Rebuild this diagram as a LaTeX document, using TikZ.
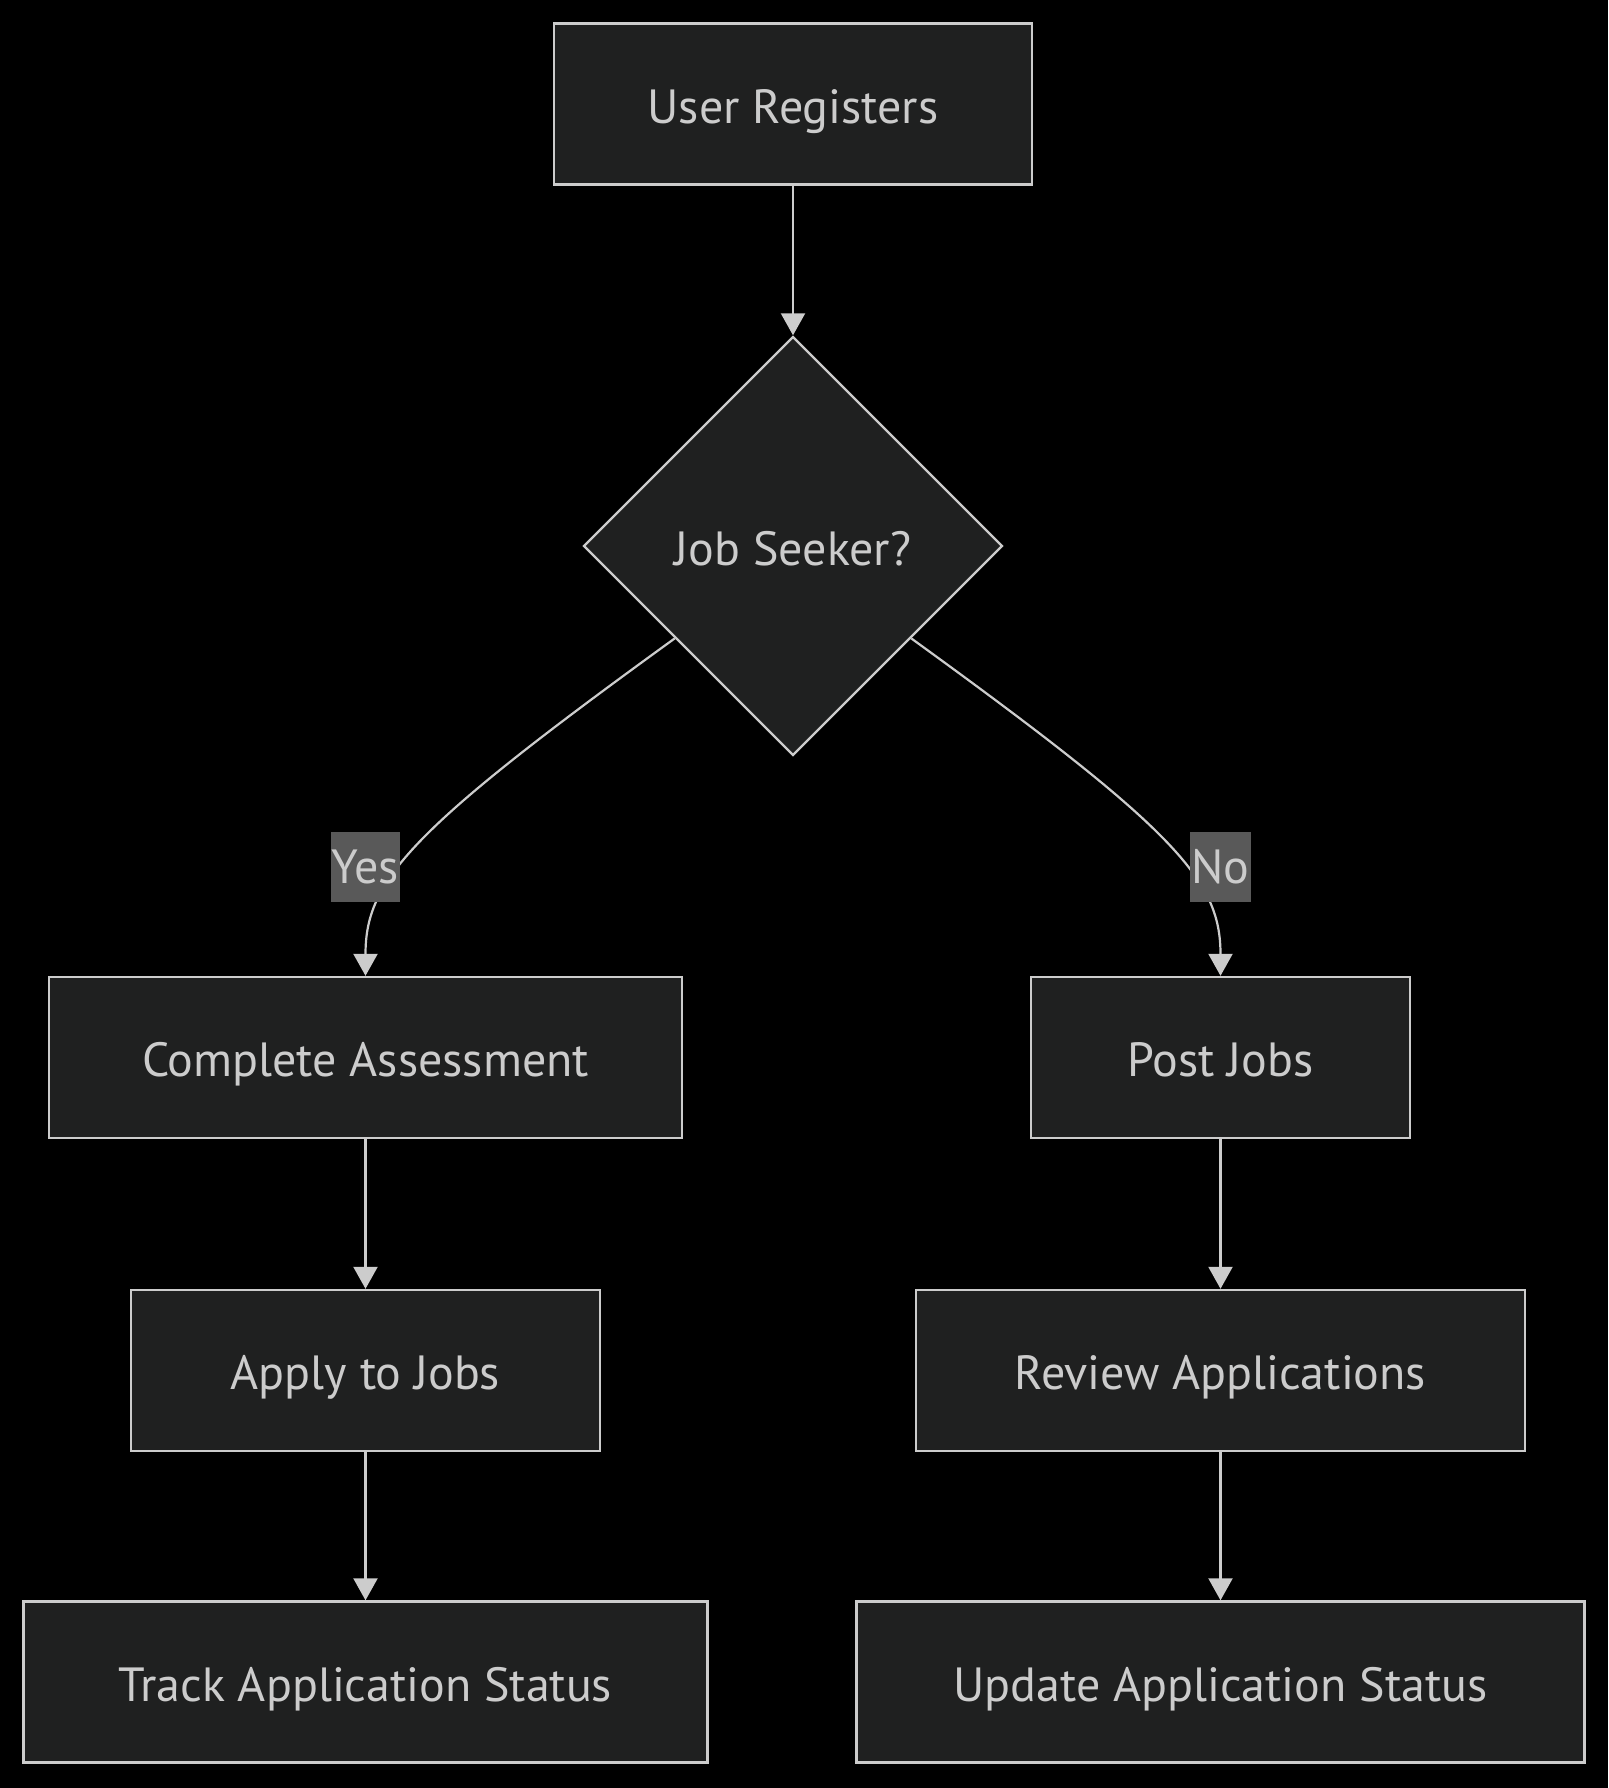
\documentclass[tikz,border=0pt]{standalone}
\usepackage{fontspec}
\setmainfont{PT Sans}
\usetikzlibrary{shapes.geometric, arrows.meta}
\definecolor{nodefill}{HTML}{1F2020}
\definecolor{nodeline}{HTML}{CCCCCC}
\definecolor{labelfill}{HTML}{595959}

\begin{document}
\begin{tikzpicture}[x=0.5pt, y=-0.5pt,
    stepbox/.style={draw=nodeline, fill=nodefill, line width=1.2pt, text=nodeline,
        minimum height=80.5pt, inner sep=0pt, text height=19pt, text depth=0pt,
        font=\fontsize{24}{28}\selectfont},
    choice/.style={draw=nodeline, fill=nodefill, line width=1.2pt, text=nodeline,
        diamond, aspect=1, minimum size=209.5pt, inner sep=0pt, text height=19pt,
        text depth=0pt, font=\fontsize{24}{28}\selectfont},
    edgelbl/.style={fill=labelfill, text=nodeline, inner xsep=0.5pt, inner ysep=0pt,
        minimum height=35pt, font=\fontsize{24}{28}\selectfont},
    flow/.style={draw=nodeline, line width=1.1pt, -{Triangle[length=11pt, width=12pt]}}]
    \fill[black] (0, 0) rectangle (1608, 1788);

    \node[stepbox, minimum width=239pt] at (793, 104) (UR) {User Registers};
    \node[choice] at (793, 546) (JS) {Job Seeker?};
    \node[stepbox, minimum width=316.5pt] at (365.5, 1057.5) (CA) {Complete Assessment};
    \node[stepbox, minimum width=189.5pt] at (1220.5, 1057.5) (PJ) {Post Jobs};
    \node[stepbox, minimum width=234.5pt] at (365.5, 1370.5) (AJ) {Apply to Jobs};
    \node[stepbox, minimum width=304.5pt] at (1220.5, 1370.5) (RA) {Review Applications};
    \node[stepbox, minimum width=342pt] at (365.5, 1682) (TS) {Track Application Status};
    \node[stepbox, minimum width=364pt] at (1220.5, 1682) (US) {Update Application Status};

    \draw[flow] (UR) -- (JS);
    \draw[flow] (JS.218) .. controls (410, 830) and (365.5, 880) .. (CA.north);
    \draw[flow] (JS.322) .. controls (1176, 830) and (1220.5, 880) .. (PJ.north);
    \draw[flow] (CA) -- (AJ);
    \draw[flow] (AJ) -- (TS);
    \draw[flow] (PJ) -- (RA);
    \draw[flow] (RA) -- (US);

    \node[edgelbl] at (365.5, 867) (yes) {Yes};
    \node[edgelbl] at (1220.5, 867) (no) {No};
\end{tikzpicture}
\end{document}
